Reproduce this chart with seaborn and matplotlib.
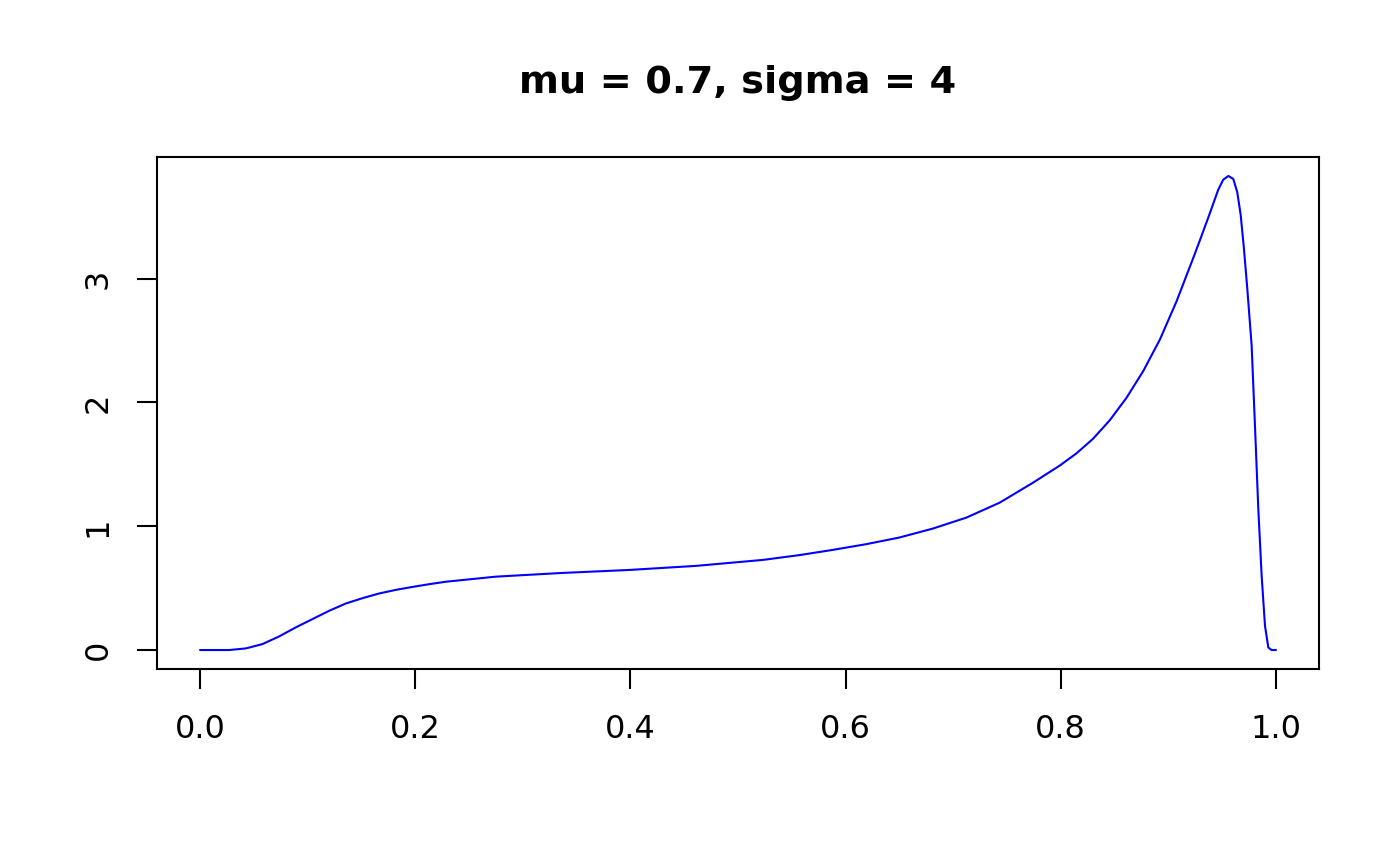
import matplotlib
matplotlib.use("Agg")
import matplotlib.pyplot as plt
import seaborn as sns
import pandas as pd

# Density curve values
x_vals = [0.0, 0.027, 0.0425, 0.058, 0.0735, 0.089, 0.1045, 0.12, 0.1355,
          0.151, 0.1665, 0.182, 0.1975, 0.213, 0.2286, 0.2751, 0.337, 0.399, 0.4611,
          0.523, 0.5572, 0.588, 0.619, 0.65, 0.681, 0.7123, 0.7433, 0.7742,
          0.799, 0.8146, 0.830, 0.8456, 0.8611, 0.8766, 0.8921, 0.9076, 0.9231,
          0.9293, 0.9386, 0.9463, 0.951, 0.9557, 0.9603, 0.964, 0.9672, 0.9702,
          0.9733, 0.9774, 0.9805, 0.9836, 0.9867, 0.9898, 0.9929, 0.996, 1.0]
y_vals = [0.0, 0.0, 0.013, 0.048, 0.110, 0.183, 0.25, 0.317, 0.376,
          0.419, 0.457, 0.486, 0.51, 0.532, 0.552, 0.593, 0.623, 0.647, 0.680,
          0.728, 0.767, 0.809, 0.855, 0.909, 0.981, 1.07, 1.191, 1.352,
          1.49, 1.589, 1.707, 1.857, 2.038, 2.253, 2.508, 2.817, 3.167,
          3.31, 3.53, 3.718, 3.80, 3.83, 3.806, 3.70, 3.516, 3.247,
          2.925, 2.46, 1.81, 1.137, 0.6, 0.196, 0.02, 0.0, 0.0]

x_ticks = [0.0, 0.2, 0.4, 0.6, 0.8, 1.0]
x_tick_labels = ["0.0", "0.2", "0.4", "0.6", "0.8", "1.0"]
y_ticks = [0, 1, 2, 3]
y_tick_labels = ["0", "1", "2", "3"]
title_text = "mu = 0.7, sigma = 4"

df = pd.DataFrame({"x": x_vals, "y": y_vals})

sns.set_style("ticks")
plt.rcParams["font.family"] = ["DejaVu Sans"]
plt.rcParams["text.color"] = "black"
plt.rcParams["axes.labelcolor"] = "black"

fig = plt.figure(figsize=(7, 4.33), dpi=200)
ax = fig.add_axes([157 / 1400, 1 - 669 / 866, (1319 - 157) / 1400, (669 - 157) / 866])

sns.lineplot(data=df, x="x", y="y", ax=ax, color="#0000FF", linewidth=0.75,
             estimator=None, sort=False)

ax.set_xlim(-0.04, 1.04)
ymax = max(y_vals)
ax.set_ylim(-0.04 * ymax, 1.04 * ymax)

ax.set_xticks(x_ticks)
ax.set_xticklabels(x_tick_labels, fontsize=11.5)
ax.set_yticks(y_ticks)
ax.set_yticklabels(y_tick_labels, fontsize=11.5, rotation=90, va="center")

ax.tick_params(axis="both", which="major", direction="out", length=7.2, width=0.75,
               color="black", labelcolor="black", bottom=True, left=True,
               top=False, right=False)
ax.tick_params(axis="x", pad=9)
ax.tick_params(axis="y", pad=8.5)

for s in ax.spines.values():
    s.set_visible(True)
    s.set_linewidth(0.75)
    s.set_color("black")

ax.set_xlabel("")
ax.set_ylabel("")
ax.set_title(title_text, fontsize=13.8, fontweight="bold", pad=23, color="black")

fig.savefig("out.png", dpi=200, facecolor="white")
